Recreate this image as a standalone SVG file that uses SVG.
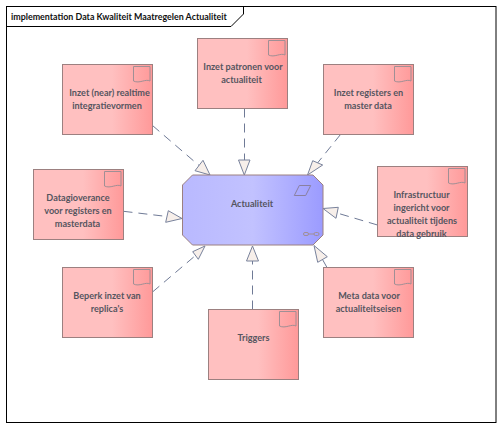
<svg xmlns="http://www.w3.org/2000/svg" width="502" height="428" viewBox="0 0 502 428">
<defs>
<linearGradient id="pink" x1="0" y1="0" x2="1" y2="0"><stop offset="0" stop-color="#ffc0c0"/><stop offset="0.55" stop-color="#ffc0c0"/><stop offset="1" stop-color="#ff9999"/></linearGradient>
<linearGradient id="blue" x1="0" y1="0" x2="1" y2="0"><stop offset="0" stop-color="#b9b9ff"/><stop offset="0.5" stop-color="#c2c2ff"/><stop offset="1" stop-color="#9b9bff"/></linearGradient>
<path id="note" d="M0 0H16.500V14.500C12 12 6 17.500 0 14.500Z"/>
</defs>
<style>
text{font-family:Lato,"Noto Sans","Liberation Sans",sans-serif;font-size:9.100px;font-weight:700;fill:#55555f;text-anchor:middle}
.box{fill:url(#pink);stroke:#9c8080;stroke-width:1}
.ic{fill:none;stroke:#a08f95;stroke-width:1}
.ln{fill:none;stroke:#6f7a96;stroke-width:1;stroke-dasharray:9 6}
.hd{fill:#f7efea;stroke:#78829c;stroke-width:1}
</style>
<rect width="502" height="428" fill="#fff"/>
<g id="frame">
<rect x="6.500" y="6.500" width="489.500" height="416" fill="#fff" stroke="#000"/>
<path d="M6.500 26.500H231L243.500 14V6.500" fill="none" stroke="#000"/>
<text x="11" y="19.500" style="text-anchor:start;fill:#111;font-size:8.900px">implementation Data Kwaliteit Maatregelen Actualiteit</text>
</g>
<g id="connectors">
<path class="ln" d="M152.500 125.500L199 165.500"/><path class="hd" d="M210 175L195 170.700L203 160.300Z"/>
<path class="ln" d="M244.500 108.500V160"/><path class="hd" d="M244.300 175L238.500 160H250Z"/>
<path class="ln" d="M340.500 134.500L317.500 163"/><path class="hd" d="M307.500 175L312.700 160.700L322.700 165Z"/>
<path class="ln" d="M123.500 211.300L167 216.500"/><path class="hd" d="M182 218.500L168.300 210.700L165.700 222.300Z"/>
<path class="ln" d="M152.500 292L195.500 255.500"/><path class="hd" d="M205 246L192.700 251.700L198.300 259.300Z"/>
<path class="ln" d="M252.500 309.500V261"/><path class="hd" d="M252.500 246L246.500 261H258.500Z"/>
<path class="ln" d="M327 267.500L322.500 259.500"/><path class="hd" d="M314 245.500L327.300 256.700L317.700 262.300Z"/>
<path class="ln" d="M377.500 225L337 213"/><path class="hd" d="M323 208.500L338.300 207.300L336 218.300Z"/>
</g>
<g id="n-realtime"><rect class="box" x="62.500" y="64.500" width="90" height="70"/><use class="ic" href="#note" x="133.500" y="66.500"/><text x="109.500" y="96">Inzet (near) realtime</text><text x="107" y="109">integratievormen</text></g>
<g id="n-patronen"><rect class="box" x="197.500" y="38.500" width="90" height="70"/><use class="ic" href="#note" x="268.500" y="40.500"/><text x="243" y="70">Inzet patronen voor</text><text x="241.500" y="83">actualiteit</text></g>
<g id="n-registers"><rect class="box" x="323.500" y="64.500" width="90" height="70"/><use class="ic" href="#note" x="394.500" y="66.500"/><text x="368.500" y="96">Inzet registers en</text><text x="368" y="109">master data</text></g>
<g id="n-governance"><rect class="box" x="33.500" y="169.500" width="90" height="70"/><use class="ic" href="#note" x="104.500" y="171.500"/><text x="78" y="201">Datagioverance</text><text x="78" y="214">voor registers en</text><text x="77.500" y="227">masterdata</text></g>
<g id="n-replica"><rect class="box" x="62.500" y="267.500" width="90" height="70"/><use class="ic" href="#note" x="133.500" y="269.500"/><text x="107" y="299">Beperk inzet van</text><text x="107" y="312">replica's</text></g>
<g id="n-triggers"><rect class="box" x="208.500" y="309.500" width="90" height="70"/><use class="ic" href="#note" x="279.500" y="311.500"/><text x="253.500" y="341">Triggers</text></g>
<g id="n-meta"><rect class="box" x="323.500" y="267.500" width="90" height="70"/><use class="ic" href="#note" x="394.500" y="269.500"/><text x="369" y="299">Meta data voor</text><text x="368.500" y="312">actualiteitseisen</text></g>
<g id="n-infra"><rect class="box" x="377.500" y="166.500" width="90" height="70"/><use class="ic" href="#note" x="448.500" y="168.500"/><text x="421.500" y="198">Infrastructuur</text><text x="421.500" y="211">ingericht voor</text><text x="422" y="224">actualiteit tijdens</text><text x="421.500" y="237">data gebruik</text></g>
<g id="n-actualiteit">
<path d="M192.500 175H313L323 185V235L313 245H192.500L182.500 235V185Z" fill="url(#blue)" stroke="#9c8080"/>
<text x="252" y="207">Actualiteit</text>
<path class="ic" d="M294.300 195.500L299.300 185.500H310.700L305.700 195.500Z" style="stroke:#8a80a0"/>
<rect class="ic" x="303.500" y="232.500" width="5" height="3" rx="1.500"/><rect class="ic" x="314" y="232.500" width="5" height="3" rx="1.500"/><path class="ic" d="M308.500 234H314"/>
</g>
</svg>
